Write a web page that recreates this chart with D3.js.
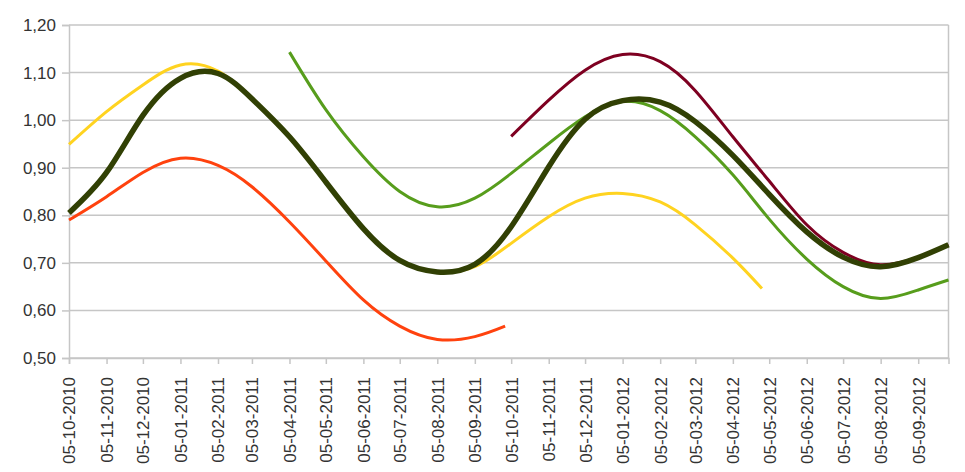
<!DOCTYPE html>
<html>
<head>
<meta charset="utf-8">
<script src="https://cdn.jsdelivr.net/npm/d3@7"></script>
<style>
  html, body { margin: 0; padding: 0; background: #fff; }
  svg { display: block; }
  text { font-family: "Liberation Sans", Arial, sans-serif; fill: #333; }
</style>
</head>
<body>
<svg id="chart" width="965" height="472"></svg>
<script>
// ---- data ----
const dates = [
  "2010-10-05","2010-11-05","2010-12-05","2011-01-05","2011-02-05","2011-03-05",
  "2011-04-05","2011-05-05","2011-06-05","2011-07-05","2011-08-05","2011-09-05",
  "2011-09-30","2011-10-05","2011-11-05","2011-12-05","2012-01-05","2012-02-05",
  "2012-03-05","2012-04-05","2012-04-29","2012-05-05","2012-06-05","2012-07-05",
  "2012-08-05","2012-09-05","2012-09-30"
];
const seriesRed = [0.790,0.839,0.890,0.920,0.905,0.860,0.786,0.704,0.622,0.567,0.539,0.545,
  0.567,null,null,null,null,null,null,null,null,null,null,null,null,null,null];
const seriesYellow = [0.949,1.018,1.074,1.116,1.103,1.046,0.966,0.870,0.772,0.705,0.681,0.692,
  null,0.741,0.797,0.836,0.846,0.828,0.780,0.710,0.646,null,null,null,null,null,null];
const seriesGreen = [null,null,null,null,null,null,1.143,1.022,0.923,0.850,0.818,0.836,
  null,0.888,0.951,1.007,1.039,1.020,0.965,0.885,null,0.792,0.708,0.650,0.625,0.643,0.664];
const seriesMaroon = [null,null,null,null,null,null,null,null,null,null,null,null,
  null,0.966,1.042,1.105,1.138,1.123,1.062,0.965,null,0.872,0.780,0.722,0.696,0.712,0.738];
const seriesDark = [0.805,0.890,1.010,1.088,1.098,1.045,0.965,0.870,0.772,0.705,0.681,0.697,
  null,0.776,0.902,1.002,1.041,1.038,0.997,0.926,null,0.844,0.765,0.712,0.692,0.711,0.738];

const xTickDates = [
  "2010-10-05","2010-11-05","2010-12-05","2011-01-05","2011-02-05","2011-03-05",
  "2011-04-05","2011-05-05","2011-06-05","2011-07-05","2011-08-05","2011-09-05",
  "2011-10-05","2011-11-05","2011-12-05","2012-01-05","2012-02-05","2012-03-05",
  "2012-04-05","2012-05-05","2012-06-05","2012-07-05","2012-08-05","2012-09-05"
];
const xTickLabels = [
  "05-10-2010","05-11-2010","05-12-2010","05-01-2011","05-02-2011","05-03-2011",
  "05-04-2011","05-05-2011","05-06-2011","05-07-2011","05-08-2011","05-09-2011",
  "05-10-2011","05-11-2011","05-12-2011","05-01-2012","05-02-2012","05-03-2012",
  "05-04-2012","05-05-2012","05-06-2012","05-07-2012","05-08-2012","05-09-2012"
];
const yTicks = [0.5,0.6,0.7,0.8,0.9,1.0,1.1,1.2];
const yTickLabels = ["0,50","0,60","0,70","0,80","0,90","1,00","1,10","1,20"];

// ---- layout ----
const parse = d3.utcParse("%Y-%m-%d");
const plotLeft = 69, plotRight = 948.5, plotTop = 25, plotBottom = 358;
const svg = d3.select("#chart");

const x = d3.scaleUtc()
  .domain([parse(dates[0]), parse(dates[dates.length - 1])])
  .range([plotLeft, plotRight]);
const y = d3.scaleLinear().domain([0.5, 1.2]).range([plotBottom, plotTop]);

const gridColor = "#c6c6c6";

// gridlines
svg.append("g").selectAll("line").data(yTicks).join("line")
  .attr("x1", plotLeft).attr("x2", plotRight)
  .attr("y1", d => y(d)).attr("y2", d => y(d))
  .attr("stroke", gridColor).attr("stroke-width", 1.5);

// right border
svg.append("line")
  .attr("x1", plotRight).attr("x2", plotRight).attr("y1", plotTop).attr("y2", plotBottom)
  .attr("stroke", gridColor).attr("stroke-width", 1.5);

// y axis
const yAxis = d3.axisLeft(y).tickValues(yTicks)
  .tickFormat((d, i) => yTickLabels[i]).tickSize(7).tickPadding(6);
const gy = svg.append("g").attr("transform", `translate(${plotLeft},0)`).call(yAxis);
gy.select(".domain").attr("stroke", gridColor).attr("stroke-width", 1.5);
gy.selectAll(".tick line").attr("stroke", gridColor).attr("stroke-width", 1.5);
gy.selectAll("text").style("font-size", "17px").attr("fill", "#333")
  .style("font-family", '"Liberation Sans", Arial, sans-serif');

// x axis
const xAxis = d3.axisBottom(x).tickValues(xTickDates.map(parse))
  .tickFormat((d, i) => xTickLabels[i]).tickSize(6).tickPadding(0);
const gx = svg.append("g").attr("transform", `translate(0,${plotBottom})`).call(xAxis);
gx.select(".domain").attr("stroke", gridColor).attr("stroke-width", 1.5);
gx.selectAll(".tick line").attr("stroke", gridColor).attr("stroke-width", 1.5);
gx.selectAll("text")
  .style("font-size", "17px").attr("fill", "#333")
  .style("font-family", '"Liberation Sans", Arial, sans-serif')
  .attr("text-anchor", "end")
  .attr("x", 0).attr("y", 0)
  .attr("dy", "0.35em")
  .attr("transform", "translate(0,19) rotate(-90)");

// lines
const line = d3.line()
  .x(d => x(d.date)).y(d => y(d.v))
  .curve(d3.curveNatural);

function pts(vals) {
  return dates.map((s, i) => ({ date: parse(s), v: vals[i] })).filter(d => d.v != null);
}

const series = [
  { vals: seriesRed, color: "#ff420e", w: 3 },
  { vals: seriesYellow, color: "#ffd320", w: 3 },
  { vals: seriesGreen, color: "#579d1c", w: 3 },
  { vals: seriesMaroon, color: "#7e0021", w: 3 },
  { vals: seriesDark, color: "#314004", w: 5.5 }
];

svg.append("g").selectAll("path").data(series).join("path")
  .attr("d", s => line(pts(s.vals)))
  .attr("fill", "none")
  .attr("stroke", s => s.color)
  .attr("stroke-width", s => s.w)
  .attr("stroke-linejoin", "round");
</script>
</body>
</html>
